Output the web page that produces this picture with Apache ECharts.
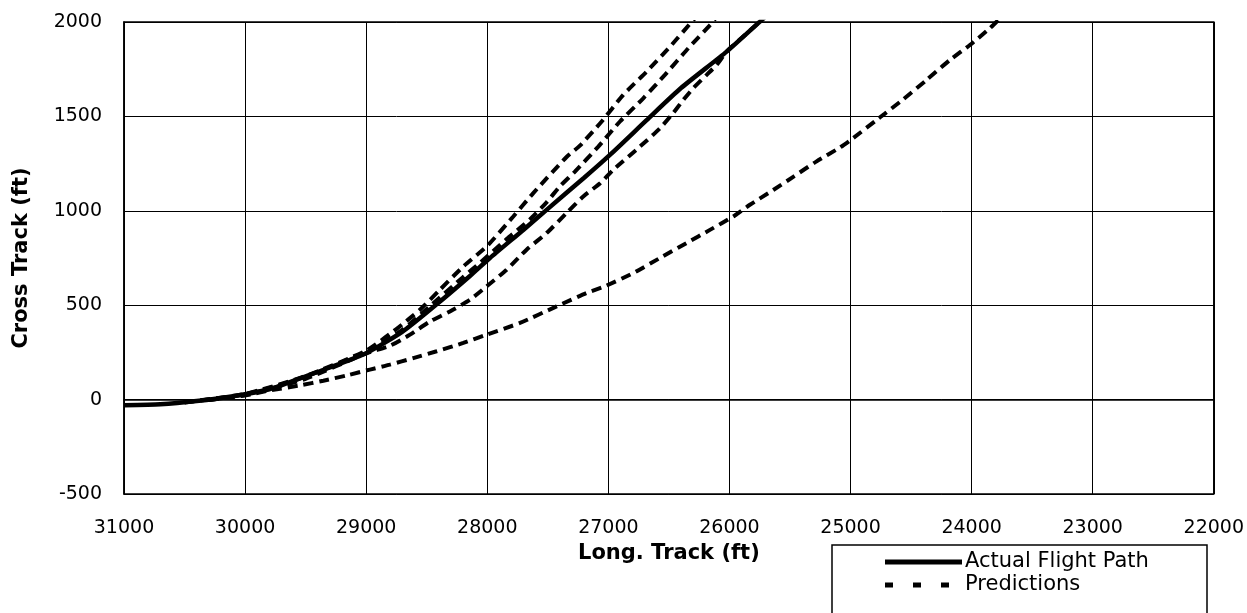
<!DOCTYPE html>
<html>
<head>
<meta charset="utf-8">
<script src="https://cdn.jsdelivr.net/npm/echarts@6/dist/echarts.min.js"></script>
<style>
html,body{margin:0;padding:0;background:#fff;}
#chart{width:1247px;height:613px;}
</style>
</head>
<body>
<div id="chart"></div>
<script>
// Tick values
const xTicks = [31000, 30000, 29000, 28000, 27000, 26000, 25000, 24000, 23000, 22000];
const yTicks = [-500, 0, 500, 1000, 1500, 2000];

// Actual flight path
const actualX = [31000, 30700, 30400, 30100, 29800, 29574, 29300, 28988, 28700, 28418, 28143, 27978, 27700, 27510, 27200, 26987, 26684, 26400, 26023, 25748, 25700];
const actualY = [-30, -25, -8, 18, 55, 106, 170, 250, 360, 505, 655, 750, 900, 1005, 1175, 1296, 1480, 1650, 1843, 2002, 2030];

// Predictions
const predAX = [30500, 30000, 29500, 29000, 28748, 28556, 28391, 28198, 28005, 27785, 27620, 27345, 27235, 27055, 26877, 26684, 26491, 26299, 26270];
const predAY = [-14, 30, 125, 260, 375, 476, 582, 705, 811, 970, 1094, 1285, 1345, 1473, 1614, 1737, 1869, 2010, 2030];

const predBX = [30500, 30000, 29500, 29000, 28700, 28473, 28198, 28060, 27840, 27647, 27510, 27400, 27276, 27083, 26904, 26712, 26533, 26340, 26147, 26120];
const predBY = [-15, 28, 122, 255, 370, 495, 650, 725, 850, 955, 1045, 1130, 1208, 1340, 1473, 1596, 1720, 1861, 1993, 2015];

const predCX = [30300, 30000, 29500, 29000, 28804, 28638, 28473, 28308, 28143, 28005, 27840, 27675, 27510, 27345, 27207, 27068, 26960, 26739, 26574, 26477, 26381, 26299, 26188, 26106, 26023, 25900, 25748, 25720];
const predCY = [-2, 25, 110, 245, 285, 344, 414, 467, 529, 600, 688, 794, 882, 988, 1076, 1146, 1217, 1340, 1437, 1508, 1587, 1649, 1720, 1772, 1843, 1915, 2002, 2020];

const predDX = [30300, 30000, 29800, 29547, 29354, 29161, 28969, 28804, 28611, 28418, 28198, 28005, 27730, 27427, 27179, 27028, 26794, 26574, 26354, 26161, 25968, 25831, 25638, 25473, 25280, 25088, 24978, 24785, 24716, 24565, 24372, 24179, 24014, 23849, 23780];
const predDY = [-2, 22, 48, 75, 100, 128, 159, 185, 220, 256, 300, 344, 406, 494, 565, 600, 670, 750, 829, 899, 970, 1032, 1110, 1180, 1262, 1335, 1385, 1481, 1515, 1590, 1693, 1799, 1878, 1967, 2010];

const seriesNames = ['Actual Flight Path', 'Predictions'];

function zip(xs, ys) { return xs.map((x, i) => [x, ys[i]]); }

const chart = echarts.init(document.getElementById('chart'), null, {renderer: 'canvas'});

const dashStyle = {color: '#000', width: 4, type: [10, 6]};
function predSeries(xs, ys) {
  return {
    name: seriesNames[1], type: 'line', data: zip(xs, ys),
    symbol: 'none', smooth: 0.2, lineStyle: dashStyle, z: 3
  };
}

const legendFont = {fontFamily: 'DejaVu Sans', fontSize: 21, fill: '#000'};

const option = {
  animation: false,
  backgroundColor: '#fff',
  grid: {
    left: 124, right: 33, top: 22, bottom: 119,
    show: true, borderColor: '#000', borderWidth: 1.5, backgroundColor: 'transparent'
  },
  xAxis: {
    type: 'value', min: 22000, max: 31000, interval: 1000, inverse: true,
    name: 'Long. Track (ft)', nameLocation: 'middle', nameGap: 48,
    nameTextStyle: {fontFamily: 'DejaVu Sans', fontWeight: 'bold', fontSize: 21, color: '#000'},
    axisLine: {show: true, lineStyle: {color: '#000', width: 1.5}},
    axisTick: {show: false},
    axisLabel: {margin: 25, fontFamily: 'DejaVu Sans', fontSize: 19, color: '#000',
      formatter: v => xTicks.includes(v) ? String(v) : ''},
    splitLine: {show: true, lineStyle: {color: '#000', width: 1}}
  },
  yAxis: {
    type: 'value', min: -500, max: 2000, interval: 500,
    name: 'Cross Track (ft)', nameLocation: 'middle', nameGap: 92, nameRotate: 90,
    nameTextStyle: {fontFamily: 'DejaVu Sans', fontWeight: 'bold', fontSize: 21, color: '#000'},
    axisLine: {show: true, lineStyle: {color: '#000', width: 1.5}},
    axisTick: {show: false},
    axisLabel: {margin: 22, fontFamily: 'DejaVu Sans', fontSize: 19, color: '#000',
      formatter: v => yTicks.includes(v) ? String(v) : ''},
    splitLine: {show: true, lineStyle: {color: '#000', width: 1}}
  },
  graphic: [
    {type: 'rect', silent: true, z: 0,
      shape: {x: 832, y: 545, width: 375, height: 80},
      style: {fill: '#fff', stroke: '#000', lineWidth: 1.5}},
    {type: 'line', silent: true, z: 1,
      shape: {x1: 885, y1: 562, x2: 962, y2: 562},
      style: {stroke: '#000', lineWidth: 5}},
    {type: 'text', silent: true, z: 1, x: 965, y: 562,
      style: Object.assign({text: seriesNames[0], verticalAlign: 'middle', align: 'left'}, legendFont)},
    {type: 'line', silent: true, z: 1,
      shape: {x1: 885, y1: 585, x2: 955, y2: 585},
      style: {stroke: '#000', lineWidth: 5, lineDash: [8, 20]}},
    {type: 'text', silent: true, z: 1, x: 965, y: 585,
      style: Object.assign({text: seriesNames[1], verticalAlign: 'middle', align: 'left'}, legendFont)}
  ],
  series: [
    predSeries(predAX, predAY),
    predSeries(predBX, predBY),
    predSeries(predCX, predCY),
    predSeries(predDX, predDY),
    {
      name: seriesNames[0], type: 'line', data: zip(actualX, actualY),
      symbol: 'none', smooth: 0.2, z: 4,
      lineStyle: {color: '#000', width: 4.5, type: 'solid'}
    }
  ]
};
chart.setOption(option);
</script>
</body>
</html>
